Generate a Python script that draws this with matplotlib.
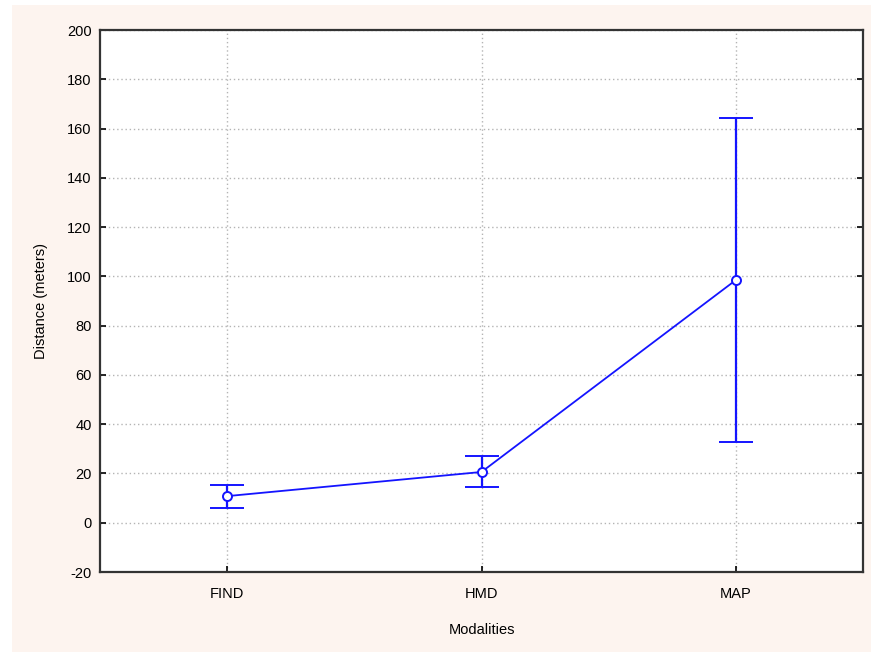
import matplotlib
matplotlib.use('Agg')
import matplotlib.pyplot as plt
from matplotlib.patches import Rectangle

plt.rcParams['font.family'] = ['Liberation Sans', 'DejaVu Sans']
plt.rcParams['axes.unicode_minus'] = False

modalities = ['FIND', 'HMD', 'MAP']
means = [10.8, 20.6, 98.5]
lower = [5.9, 14.7, 32.8]
upper = [15.4, 27.0, 164.3]

fig = plt.figure(figsize=(8.71, 6.52), dpi=100, facecolor='white')
# pink background panel
fig.patches.append(Rectangle((12 / 871, 0), 1, (652 - 5) / 652, transform=fig.transFigure,
                             facecolor='#fdf4ef', edgecolor='none', zorder=-10))

ax = fig.add_axes([100 / 871, (652 - 572) / 652, 763 / 871, 542 / 652])
ax.set_facecolor('white')

x = list(range(len(modalities)))
yerr = [[m - l for m, l in zip(means, lower)], [u - m for m, u in zip(means, upper)]]
ax.errorbar(x, means, yerr=yerr, color='#1414ff', lw=1.3, elinewidth=1.6, capsize=12,
            capthick=1.6, marker='o', ms=6.5, mfc='white', mec='#1414ff', mew=1.4, zorder=3)

ax.set_xlim(-0.5, 2.5)
ax.set_ylim(-20, 200)
ax.set_yticks(range(-20, 201, 20))
ax.set_xticks(x)
ax.set_xticklabels(modalities)
ax.grid(True, color='#b4b4b4', linestyle=(0, (1, 2)), linewidth=1.0)
ax.tick_params(direction='in', length=4, width=1.2, labelsize=10.5, colors='black',
               right=True, pad=6)
ax.tick_params(axis='x', pad=11)
for s in ax.spines.values():
    s.set_linewidth(1.6)
    s.set_color('#333333')

ax.set_xlabel('Modalities', fontsize=10.5, labelpad=16)
ax.set_ylabel('Distance (meters)', fontsize=10.5, labelpad=14)

fig.savefig('out.png', dpi=100, facecolor=fig.get_facecolor())
